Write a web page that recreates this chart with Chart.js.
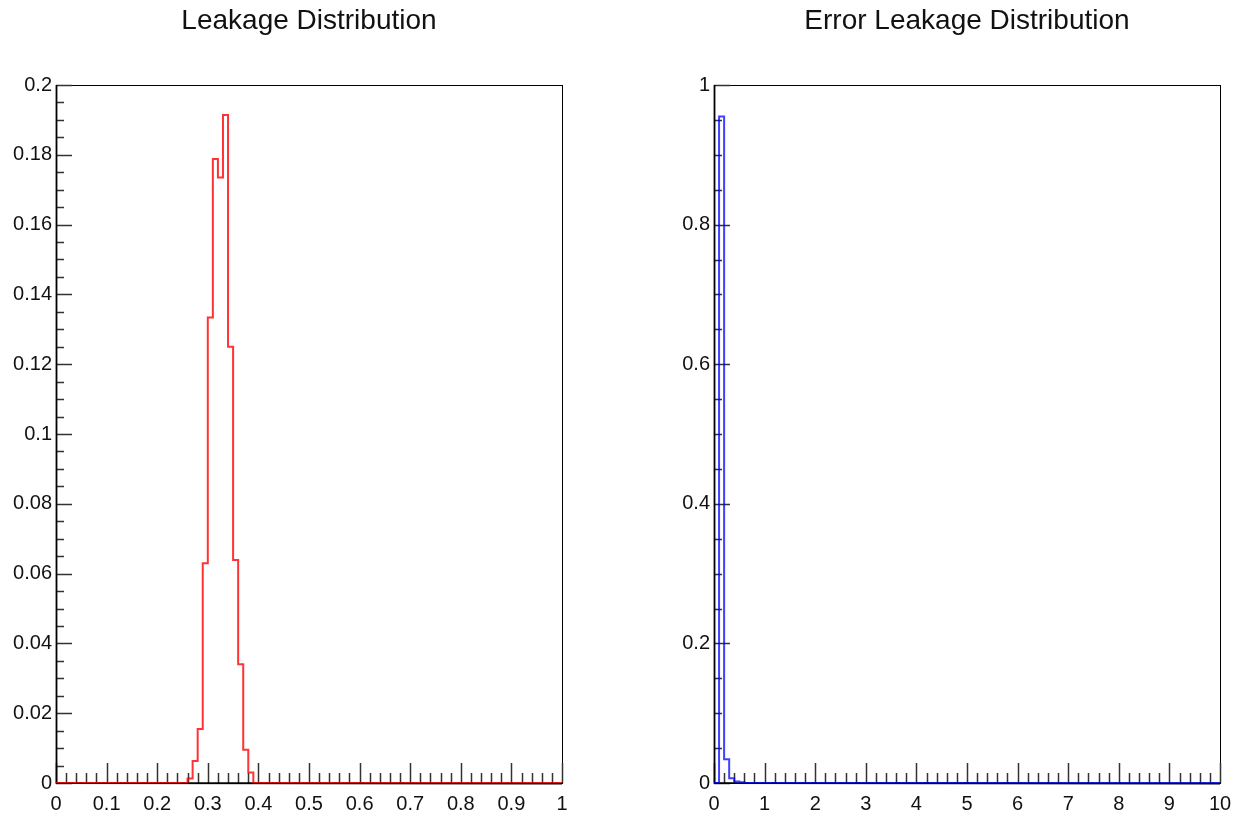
<!DOCTYPE html>
<html>
<head>
<meta charset="utf-8">
<title>Leakage Distribution</title>
<script src="https://cdn.jsdelivr.net/npm/chart.js@4.4.0/dist/chart.umd.min.js"></script>
<style>
    body { margin: 0; background: #fff; }
    .pad { position: absolute; top: 0; width: 622px; height: 820px; }
    #leftPad { left: 0; }
    #rightPad { left: 622px; }
</style>
</head>
<body>
<div class="pad" id="leftPad"><canvas id="leakageChart" width="622" height="820"></canvas></div>
<div class="pad" id="rightPad"><canvas id="errorLeakageChart" width="622" height="820"></canvas></div>
<script>
        // --- Histogram Data (100 bins each) ---
        const leakageRange = [0, 1];
        const leakageBins = [
            0, 0, 0, 0, 0, 0, 0, 0, 0, 0,
            0, 0, 0, 0, 0, 0, 0, 0, 0, 0,
            0, 0, 0, 0, 0, 0, 0.0013, 0.0063, 0.0155, 0.063,
            0.1334, 0.1788, 0.1735, 0.1914, 0.125, 0.0639, 0.034, 0.0095, 0.003, 0,
            0, 0, 0, 0, 0, 0, 0, 0, 0, 0,
            0, 0, 0, 0, 0, 0, 0, 0, 0, 0,
            0, 0, 0, 0, 0, 0, 0, 0, 0, 0,
            0, 0, 0, 0, 0, 0, 0, 0, 0, 0,
            0, 0, 0, 0, 0, 0, 0, 0, 0, 0,
            0, 0, 0, 0, 0, 0, 0, 0, 0, 0
        ];
        const leakageXTicks = [0, 0.1, 0.2, 0.3, 0.4, 0.5, 0.6, 0.7, 0.8, 0.9, 1];
        const leakageYTicks = [0, 0.02, 0.04, 0.06, 0.08, 0.1, 0.12, 0.14, 0.16, 0.18, 0.2];

        const errorRange = [0, 10];
        const errorBins = [
            0, 0.955, 0.034, 0.0067, 0.002, 0.001, 0, 0, 0, 0,
            0, 0, 0, 0, 0, 0, 0, 0, 0, 0,
            0, 0, 0, 0, 0, 0, 0, 0, 0, 0,
            0, 0, 0, 0, 0, 0, 0, 0, 0, 0,
            0, 0, 0, 0, 0, 0, 0, 0, 0, 0,
            0, 0, 0, 0, 0, 0, 0, 0, 0, 0,
            0, 0, 0, 0, 0, 0, 0, 0, 0, 0,
            0, 0, 0, 0, 0, 0, 0, 0, 0, 0,
            0, 0, 0, 0, 0, 0, 0, 0, 0, 0,
            0, 0, 0, 0, 0, 0, 0, 0, 0, 0
        ];
        const errorXTicks = [0, 1, 2, 3, 4, 5, 6, 7, 8, 9, 10];
        const errorYTicks = [0, 0.2, 0.4, 0.6, 0.8, 1];

        const FONT = '"Liberation Sans", Arial, Helvetica, sans-serif';

        // bin contents -> step points at the low edges, plus the closing edge
        function histPoints(range, values) {
            const w = (range[1] - range[0]) / values.length;
            const pts = values.map((v, i) => ({ x: range[0] + i * w, y: v }));
            pts.push({ x: range[1], y: values[values.length - 1] });
            return pts;
        }

        // Frame box + inward major/minor ticks, drawn under the histogram line
        const frameTicks = {
            id: 'frameTicks',
            beforeDatasetsDraw(chart, args, opts) {
                const { ctx, chartArea: a, scales: { x, y } } = chart;
                ctx.save();
                ctx.strokeStyle = '#000';
                ctx.lineWidth = 1;
                ctx.strokeRect(Math.round(a.left) + 0.5, Math.round(a.top) + 0.5,
                    Math.round(a.right - a.left), Math.round(a.bottom - a.top));

                ctx.strokeStyle = '#333';
                ctx.lineWidth = 1.5;
                ctx.beginPath();
                const xs = x.ticks.map(t => t.value);
                xs.forEach((v, i) => {
                    const px = Math.round(x.getPixelForValue(v)) + 0.5;
                    ctx.moveTo(px, a.bottom);
                    ctx.lineTo(px, a.bottom - opts.xMajor);
                    if (i < xs.length - 1) {
                        const step = (xs[i + 1] - v) / opts.xDiv;
                        for (let k = 1; k < opts.xDiv; k++) {
                            const mx = Math.round(x.getPixelForValue(v + k * step)) + 0.5;
                            ctx.moveTo(mx, a.bottom);
                            ctx.lineTo(mx, a.bottom - opts.xMinor);
                        }
                    }
                });
                const ys = y.ticks.map(t => t.value);
                ys.forEach((v, i) => {
                    const py = Math.round(y.getPixelForValue(v)) + 0.5;
                    ctx.moveTo(a.left, py);
                    ctx.lineTo(a.left + opts.yMajor, py);
                    if (i < ys.length - 1) {
                        const step = (ys[i + 1] - v) / opts.yDiv;
                        for (let k = 1; k < opts.yDiv; k++) {
                            const my = Math.round(y.getPixelForValue(v + k * step)) + 0.5;
                            ctx.moveTo(a.left, my);
                            ctx.lineTo(a.left + opts.yMinor, my);
                        }
                    }
                });
                ctx.stroke();

                // axis lines a bit heavier than the frame
                ctx.strokeStyle = '#000';
                ctx.lineWidth = 1.8;
                ctx.beginPath();
                ctx.moveTo(Math.round(a.left) + 0.5, a.top);
                ctx.lineTo(Math.round(a.left) + 0.5, a.bottom);
                ctx.lineTo(a.right, Math.round(a.bottom) + 0.5);
                ctx.stroke();
                ctx.restore();
            }
        };

        function histChart(canvasId, cfg) {
            const ctx = document.getElementById(canvasId).getContext('2d');
            return new Chart(ctx, {
                type: 'line',
                data: {
                    datasets: [{
                        data: histPoints(cfg.range, cfg.bins),
                        borderColor: cfg.color,
                        borderWidth: 2,
                        stepped: 'before',
                        pointRadius: 0,
                        fill: false,
                        tension: 0
                    }]
                },
                options: {
                    responsive: false,
                    animation: false,
                    layout: { padding: { left: 0, right: cfg.padRight, top: 0, bottom: 0 } },
                    plugins: {
                        legend: { display: false },
                        tooltip: { enabled: false },
                        title: {
                            display: true,
                            text: cfg.title,
                            fullSize: false,
                            color: '#111',
                            font: { family: FONT, size: 28, weight: 'normal' },
                            padding: { top: 4, bottom: 47.4 }
                        },
                        frameTicks: { xMajor: 20, xMinor: 10, xDiv: 5, yMajor: 16, yMinor: 8, yDiv: 4 }
                    },
                    scales: {
                        x: {
                            type: 'linear',
                            min: cfg.range[0],
                            max: cfg.range[1],
                            grid: { display: false, drawTicks: false },
                            border: { display: false },
                            afterBuildTicks: s => { s.ticks = cfg.xTicks.map(v => ({ value: v })); },
                            afterFit: s => { s.height = 37; },
                            ticks: {
                                color: '#111',
                                font: { family: FONT, size: 20 },
                                padding: 9,
                                autoSkip: false,
                                maxRotation: 0,
                                callback: v => String(v)
                            }
                        },
                        y: {
                            type: 'linear',
                            min: 0,
                            max: cfg.yTicks[cfg.yTicks.length - 1],
                            grid: { display: false, drawTicks: false },
                            border: { display: false },
                            afterBuildTicks: s => { s.ticks = cfg.yTicks.map(v => ({ value: v })); },
                            afterFit: s => { s.width = cfg.axisWidth; },
                            ticks: {
                                color: '#111',
                                font: { family: FONT, size: 20 },
                                padding: 4,
                                callback: v => String(v)
                            }
                        }
                    }
                },
                plugins: [frameTicks]
            });
        }

        // --- 1. Leakage ---
        const leakageChart = histChart('leakageChart', {
            title: 'Leakage Distribution',
            range: leakageRange,
            bins: leakageBins,
            xTicks: leakageXTicks,
            yTicks: leakageYTicks,
            color: 'rgba(255, 0, 0, 0.8)',
            axisWidth: 56,
            padRight: 60
        });

        // --- 2. Error Leakage ---
        const errorLeakageChart = histChart('errorLeakageChart', {
            title: 'Error Leakage Distribution',
            range: errorRange,
            bins: errorBins,
            xTicks: errorXTicks,
            yTicks: errorYTicks,
            color: 'rgba(0, 0, 255, 0.75)',
            axisWidth: 92,
            padRight: 24
        });
</script>
</body>
</html>
